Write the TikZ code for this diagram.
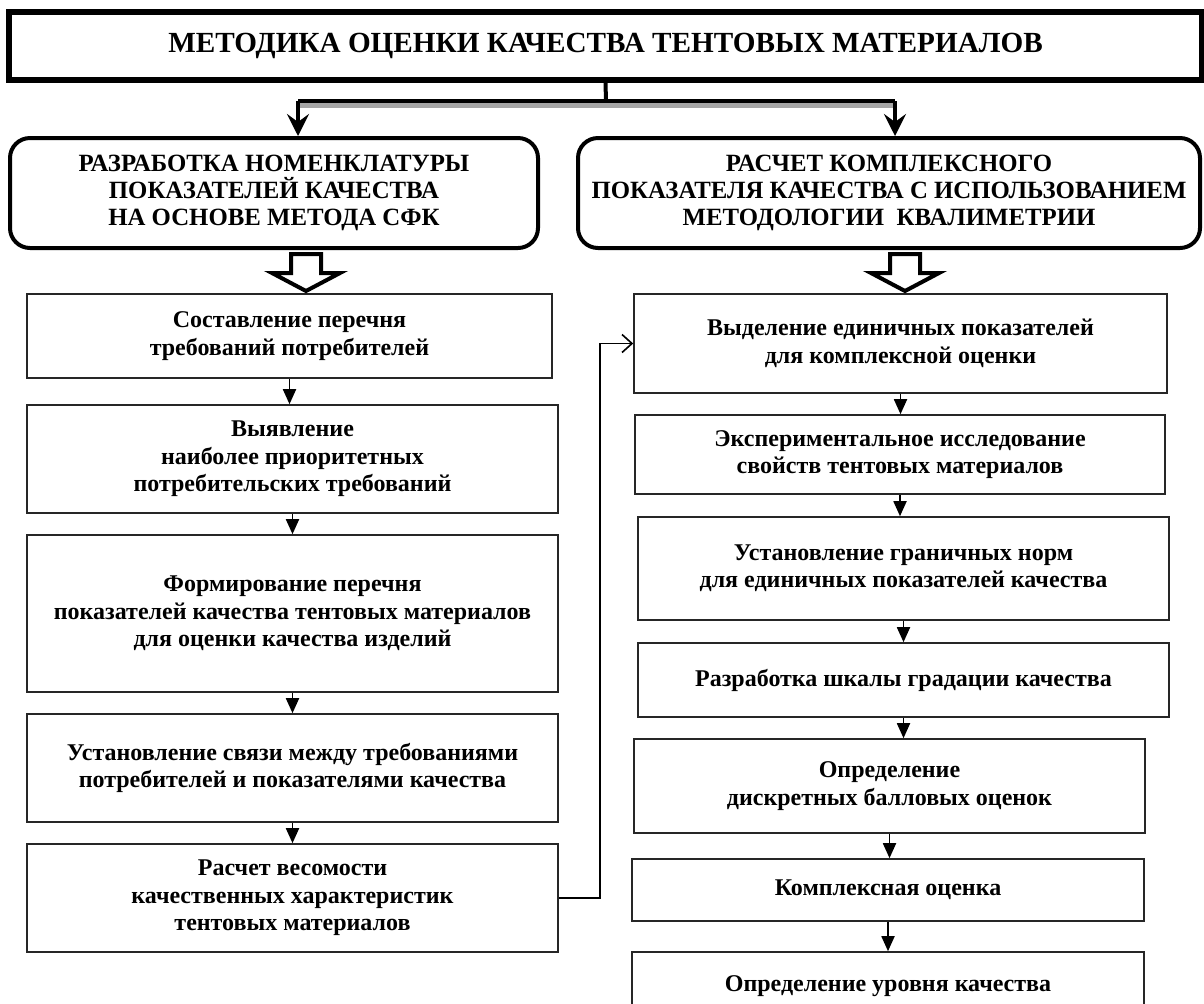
\documentclass[tikz,border=0pt]{standalone}
\usepackage{fontspec}
\setmainfont{Liberation Serif}
\usetikzlibrary{arrows.meta}

\begin{document}
\begin{tikzpicture}[x=0.5pt,y=-0.5pt]
\tikzset{titlebox/.style = {draw,line width=3pt,inner sep=0pt,font=\fontsize{14.6}{16}\selectfont\bfseries}}
\tikzset{headbox/.style = {draw,line width=2pt,rounded corners=10pt,inner sep=0pt,align=center,font=\fontsize{12.4}{13.3}\selectfont\bfseries}}
\tikzset{stepbox/.style = {draw=black!85,line width=0.8pt,inner sep=0pt,align=center,font=\fontsize{12}{13.7}\selectfont\bfseries}}
\tikzset{split/.style = {line width=2pt,-{Stealth[length=11pt,width=11pt,inset=4pt]}}}
\tikzset{flow/.style = {line width=0.9pt,-{Triangle[length=7.5pt,width=6.5pt]}}}
\tikzset{feedback/.style = {line width=0.8pt,-{Straight Barb[length=5pt,width=9pt]}}}
\tikzset{hollow/.style = {draw,line width=2pt,line join=miter,fill=white}}
\useasboundingbox (0,0) rectangle (1204,1003);
\node[titlebox,minimum width=596.5pt,minimum height=34pt] (title) at (605.5,46) {МЕТОДИКА ОЦЕНКИ КАЧЕСТВА ТЕНТОВЫХ МАТЕРИАЛОВ};
\node[headbox,minimum width=264pt,minimum height=55pt] (nom) at (274,193) {РАЗРАБОТКА НОМЕНКЛАТУРЫ\\ПОКАЗАТЕЛЕЙ КАЧЕСТВА\\НА ОСНОВЕ МЕТОДА СФК};
\node[headbox,minimum width=311pt,minimum height=55pt] (kval) at (889,193) {РАСЧЕТ КОМПЛЕКСНОГО\\ПОКАЗАТЕЛЯ КАЧЕСТВА С ИСПОЛЬЗОВАНИЕМ\\МЕТОДОЛОГИИ\ \ КВАЛИМЕТРИИ};
\node[stepbox,minimum width=262.5pt,minimum height=42pt] (a1) at (289.5,336) {Составление перечня\\требований потребителей};
\node[stepbox,minimum width=265.5pt,minimum height=54pt] (a2) at (292.5,459) {Выявление\\наиболее приоритетных\\потребительских требований};
\node[stepbox,minimum width=265.5pt,minimum height=78.5pt] (a3) at (292.5,613.5) {Формирование перечня\\показателей качества тентовых материалов\\для оценки качества изделий};
\node[stepbox,minimum width=265.5pt,minimum height=54pt] (a4) at (292.5,768) {Установление связи между требованиями\\потребителей и показателями качества};
\node[stepbox,minimum width=265.5pt,minimum height=54pt] (a5) at (292.5,898) {Расчет весомости\\качественных характеристик\\тентовых материалов};
\node[stepbox,minimum width=266.5pt,minimum height=49.5pt] (b1) at (900.5,343.5) {Выделение единичных показателей\\для комплексной оценки};
\node[stepbox,minimum width=265pt,minimum height=39.5pt] (b2) at (900,454.5) {Экспериментальное исследование\\свойств тентовых материалов};
\node[stepbox,minimum width=265.5pt,minimum height=51.5pt] (b3) at (903.5,568.5) {Установление граничных норм\\для единичных показателей качества};
\node[stepbox,minimum width=265.5pt,minimum height=37pt] (b4) at (903.5,680) {Разработка шкалы градации качества};
\node[stepbox,minimum width=255.5pt,minimum height=47pt] (b5) at (889.5,786) {Определение\\дискретных балловых оценок};
\node[stepbox,minimum width=256pt,minimum height=31pt] (b6) at (888,890) {Комплексная оценка};
\node[stepbox,minimum width=256pt,minimum height=34pt] (b7) at (888,986) {Определение уровня качества};
\coordinate (fork) at (606,101);
\coordinate (forkL) at (298,101);
\coordinate (forkR) at (895,101);
\coordinate (via) at (600,0);
\draw[line width=2.5pt,gray!70] ([yshift=-2.2pt]forkL) -- ([yshift=-2.2pt]forkR);
\draw[line width=2pt] (title.south) -- (fork);
\draw[line width=2pt] (forkL) -- (forkR);
\draw[split] (forkL) -- (forkL |- nom.north);
\draw[split] (forkR) -- (forkR |- kval.north);
\draw[hollow] (291,254) -- (321,254) -- (321,273) -- (340,273) -- (306,291) -- (272,273) -- (291,273) -- cycle;
\draw[hollow] (890,254) -- (920,254) -- (920,273) -- (939,273) -- (905,291) -- (871,273) -- (890,273) -- cycle;
\draw[flow] (a1.south) -- (a1.south |- a2.north);
\draw[flow] (a2.south) -- (a2.south |- a3.north);
\draw[flow] (a3.south) -- (a3.south |- a4.north);
\draw[flow] (a4.south) -- (a4.south |- a5.north);
\draw[flow] (b1.south) -- (b1.south |- b2.north);
\draw[flow] (b2.south) -- (b2.south |- b3.north);
\draw[flow] (b3.south) -- (b3.south |- b4.north);
\draw[flow] (b4.south) -- (b4.south |- b5.north);
\draw[flow] (b5.south) -- (b5.south |- b6.north);
\draw[flow] (b6.south) -- (b6.south |- b7.north);
\draw[feedback] (a5.east) -| (via |- b1.west) -- (b1.west);
\end{tikzpicture}
\end{document}
